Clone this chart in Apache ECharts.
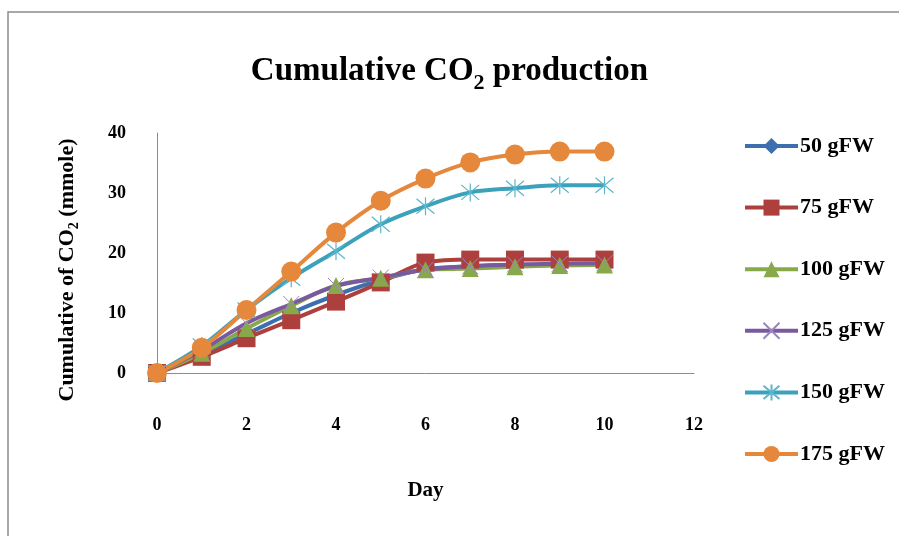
<!DOCTYPE html>
<html>
<head>
<meta charset="utf-8">
<style>
  html, body { margin: 0; padding: 0; background: #ffffff; }
  #chart { width: 899px; height: 536px; }
</style>
<script src="https://cdn.jsdelivr.net/npm/echarts@6/dist/echarts.min.js"></script>
</head>
<body>
<div id="chart"></div>
<script>
// Days of measurement
const days = [0, 1, 2, 3, 4, 5, 6, 7, 8, 9, 10];

// Cumulative CO2 (mmole) per sample mass
const gfw50  = [0, 3.2, 6.5, 10.0, 13.0, 15.5, 17.3, 17.8, 18.0, 18.0, 18.0];
const gfw75  = [0, 2.7, 5.8, 8.8, 11.9, 15.1, 18.4, 18.9, 18.9, 18.9, 18.9];
const gfw100 = [0, 3.3, 7.4, 11.2, 14.6, 15.8, 17.2, 17.4, 17.7, 17.9, 18.0];
const gfw125 = [0, 3.8, 8.3, 11.5, 14.5, 15.9, 17.2, 17.8, 18.1, 18.2, 18.3];
const gfw150 = [0, 4.5, 10.5, 15.8, 20.3, 24.8, 27.8, 30.1, 30.8, 31.3, 31.3];
const gfw175 = [0, 4.2, 10.5, 16.9, 23.4, 28.7, 32.4, 35.1, 36.4, 36.9, 36.9];

const seriesNames = ['50 gFW', '75 gFW', '100 gFW', '125 gFW', '150 gFW', '175 gFW'];
const xTicks = [0, 2, 4, 6, 8, 10, 12];
const yTicks = [0, 10, 20, 30, 40];

const FONT = '"Liberation Serif", "Times New Roman", serif';

const pts = (vals) => days.map((d, i) => [d, vals[i]]);

// Marker glyphs drawn as stroked paths
const crossPath = 'path://M0,0L10,10M10,0L0,10';
const starPath = 'path://M0,0L10,10M10,0L0,10M5,-1L5,11';

function lineSeries(name, vals, color, symbol, size, extra) {
  return Object.assign({
    name: name,
    type: 'line',
    data: pts(vals),
    smooth: 0.35,
    symbol: symbol,
    symbolSize: size,
    lineStyle: { color: color, width: 4 },
    itemStyle: { color: color },
    emphasis: { disabled: true }
  }, extra || {});
}

const chart = echarts.init(document.getElementById('chart'), null, { renderer: 'canvas' });

chart.setOption({
  animation: false,
  backgroundColor: '#ffffff',
  textStyle: { fontFamily: FONT },
  graphic: [{
    type: 'rect',
    shape: { x: 8, y: 12, width: 1000, height: 1000 },
    style: { fill: 'none', stroke: '#8c8c8c', lineWidth: 1.5 },
    silent: true
  }],
  title: {
    text: 'Cumulative CO{sub|2} production',
    left: 'center',
    top: 43,
    textStyle: {
      fontFamily: FONT,
      fontSize: 33,
      fontWeight: 'bold',
      color: '#000',
      rich: {
        sub: { fontFamily: FONT, fontSize: 22, fontWeight: 'bold', color: '#000', padding: [24, 0, 0, 0] }
      }
    }
  },
  legend: {
    orient: 'vertical',
    left: 738,
    top: 129,
    itemWidth: 53,
    itemHeight: 20,
    itemGap: 37.6,
    data: seriesNames,
    lineStyle: { width: 4 },
    textStyle: {
      fontFamily: FONT, fontSize: 22, fontWeight: 'bold', color: '#000',
      lineHeight: 24, padding: [0, 0, 0, -3]
    }
  },
  grid: { left: 157, top: 133, width: 537, height: 240 },
  xAxis: {
    type: 'value',
    min: 0, max: 12, interval: 2,
    name: 'Day',
    nameLocation: 'middle',
    nameGap: 107,
    nameTextStyle: { fontFamily: FONT, fontSize: 21, fontWeight: 'bold', color: '#000' },
    axisLine: { lineStyle: { color: '#8c8c8c', width: 1 } },
    axisTick: { show: false },
    splitLine: { show: false },
    axisLabel: {
      margin: 43,
      fontFamily: FONT, fontSize: 18, fontWeight: 'bold', color: '#000',
      customValues: xTicks
    }
  },
  yAxis: {
    type: 'value',
    min: 0, max: 40, interval: 10,
    name: 'Cumulative of CO{sub|2} (mmole)',
    nameLocation: 'middle',
    nameGap: 76,
    nameTextStyle: {
      fontFamily: FONT, fontSize: 22, fontWeight: 'bold', color: '#000',
      padding: [0, 34, 0, 0],
      rich: {
        sub: { fontFamily: FONT, fontSize: 14, fontWeight: 'bold', color: '#000', padding: [14, 0, 0, 0] }
      }
    },
    axisLine: { show: true, lineStyle: { color: '#8c8c8c', width: 1 } },
    axisTick: { show: false },
    splitLine: { show: false },
    axisLabel: {
      margin: 31,
      fontFamily: FONT, fontSize: 18, fontWeight: 'bold', color: '#000',
      customValues: yTicks
    }
  },
  series: [
    lineSeries(seriesNames[0], gfw50, '#3d6fae', 'diamond', 15),
    lineSeries(seriesNames[1], gfw75, '#ad3f3c', 'rect', 18),
    lineSeries(seriesNames[2], gfw100, '#88a94a', 'triangle', 17),
    lineSeries(seriesNames[3], gfw125, '#7a5a9e', crossPath, 16, {
      itemStyle: { color: 'none', borderColor: '#9b85bd', borderWidth: 1 }
    }),
    lineSeries(seriesNames[4], gfw150, '#3ca2bb', starPath, 18, {
      itemStyle: { color: 'none', borderColor: '#5cb6cc', borderWidth: 1.2 }
    }),
    lineSeries(seriesNames[5], gfw175, '#e5883c', 'circle', 20)
  ]
});
</script>
</body>
</html>
